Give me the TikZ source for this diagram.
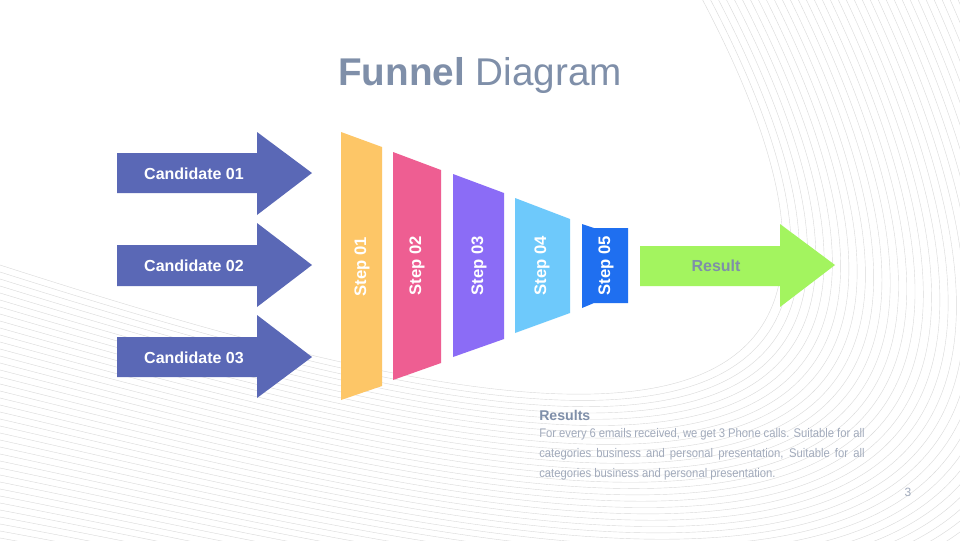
\documentclass[tikz,border=0pt]{standalone}
\usepackage{fontspec}
\setmainfont{Liberation Sans}
\newfontfamily\narrowsans[FakeStretch=0.9]{Liberation Sans}
\usetikzlibrary{positioning}

\definecolor{candblue}{HTML}{5A68B6}
\definecolor{stepone}{HTML}{FDC667}
\definecolor{steptwo}{HTML}{EE5E92}
\definecolor{stepthree}{HTML}{8B6CF6}
\definecolor{stepfour}{HTML}{6EC9FB}
\definecolor{stepfive}{HTML}{1F6FF0}
\definecolor{resgreen}{HTML}{A3F45F}
\definecolor{titlegray}{HTML}{7F8FA9}
\definecolor{bodygray}{HTML}{A2ABBC}

\tikzset{
  waveline/.style={draw=black!15, line width=0.3pt},
  candtext/.style={text=white, inner sep=0pt, font=\bfseries\fontsize{12}{14}\selectfont},
  steptext/.style={text=white, inner sep=0pt, rotate=90, font=\bfseries\fontsize{12.5}{14}\selectfont},
}

\begin{document}
\begin{tikzpicture}[x=0.75pt, y=-0.75pt]

\useasboundingbox[fill=white] (0,0) rectangle (960,540);

% background lines
\begin{scope}
\clip (0,0) rectangle (960,540);
\foreach \i in {0,...,48}
  \draw[waveline] (0,{265+7*\i}) .. controls ({420+3*\i},{400+6*\i}) and ({1000+10*\i},{560+8*\i}) .. ({700+8*\i},-5);
\end{scope}

% title
\node[text=titlegray, anchor=base, font=\fontsize{29}{34}\selectfont] (title) at (480,85) {\textbf{Funnel} Diagram};

% candidates
\fill[candblue] (117,153) -- (257,153) -- (257,132) -- (312,173) -- (257,215) -- (257,193) -- (117,193) -- cycle;
\node[candtext] (cand1) at (194,174) {Candidate 01};

\fill[candblue] (117,245) -- (257,245) -- (257,223) -- (312,265) -- (257,307) -- (257,286) -- (117,286) -- cycle;
\node[candtext] (cand2) at (194,266) {Candidate 02};

\fill[candblue] (117,337) -- (257,337) -- (257,315) -- (312,357) -- (257,398) -- (257,377) -- (117,377) -- cycle;
\node[candtext] (cand3) at (194,358) {Candidate 03};

% funnel
\fill[stepone] (341,132) -- (382,147) -- (382,386) -- (341,400) -- cycle;
\node[steptext] (step1) at (362,267) {Step 01};

\fill[steptwo] (393,152) -- (441,170) -- (441,363) -- (393,380) -- cycle;
\node[steptext] (step2) at (417,266) {Step 02};

\fill[stepthree] (453,174) -- (504,193) -- (504,339) -- (453,357) -- cycle;
\node[steptext] (step3) at (479,266) {Step 03};

\fill[stepfour] (515,198) -- (570,219) -- (570,313) -- (515,333) -- cycle;
\node[steptext] (step4) at (542,266) {Step 04};

\fill[stepfive] (582,224) -- (594,228) -- (628,228) -- (628,303) -- (594,303) -- (582,308) -- cycle;
\node[steptext] (step5) at (606,266) {Step 05};

% result
\fill[resgreen] (640,246) -- (780,246) -- (780,224) -- (835,265) -- (780,307) -- (780,286) -- (640,286) -- cycle;
\node[candtext, text=titlegray] (result) at (716,266) {Result};

% results text
\node[text=titlegray, anchor=base west, inner sep=0pt, font=\bfseries\fontsize{10.6}{13}\selectfont] (restitle) at (539,420) {Results};
\node[text=bodygray, anchor=north west, inner sep=0pt, text width=244pt, align=justify,
      font=\narrowsans\fontsize{9.4}{15}\selectfont] (restext) at (539,428)
  {For every 6 emails received, we get 3 Phone calls. Suitable for all\linebreak
   categories business and personal presentation, Suitable for all\linebreak
   categories business and personal presentation.};

\node[text=bodygray, inner sep=0pt, font=\fontsize{9}{11}\selectfont] (pagenum) at (908,492) {3};

\end{tikzpicture}
\end{document}
